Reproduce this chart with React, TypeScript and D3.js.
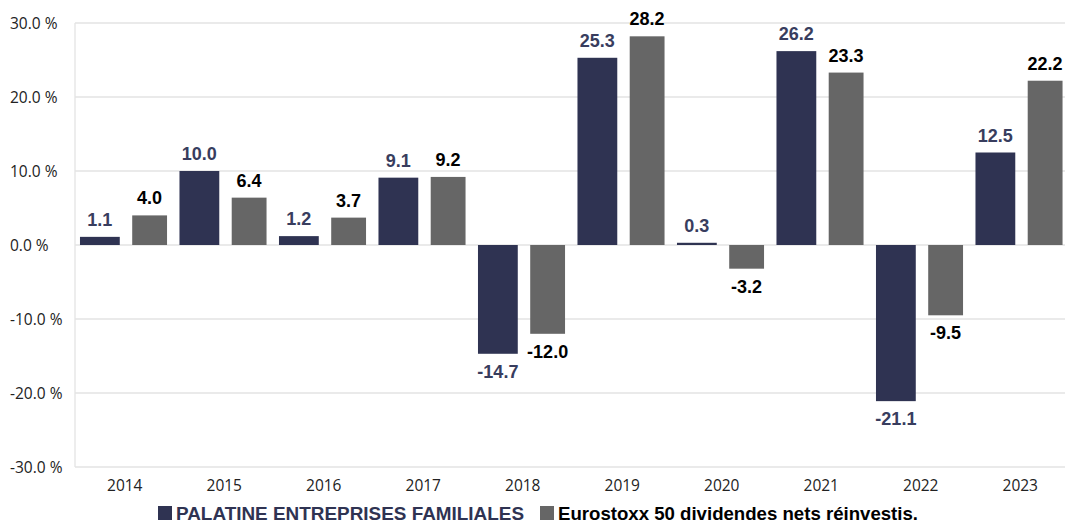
import React from "react";
import * as d3 from "d3";

const years = ["2014", "2015", "2016", "2017", "2018", "2019", "2020", "2021", "2022", "2023"];
const palatine = [1.1, 10.0, 1.2, 9.1, -14.7, 25.3, 0.3, 26.2, -21.1, 12.5];
const eurostoxx = [4.0, 6.4, 3.7, 9.2, -12.0, 28.2, -3.2, 23.3, -9.5, 22.2];
const yTicks = [30, 20, 10, 0, -10, -20, -30];
const seriesNames = ["PALATINE ENTREPRISES FAMILIALES", "Eurostoxx 50 dividendes nets réinvestis."];

const W = 1065;
const H = 525;
const BLUE = "#2f3352";
const GRAY = "#666666";

export default function App() {
  const x = d3.scaleBand<string>().domain(years).range([75, 1070]).padding(0);
  const y = d3.scaleLinear().domain([-30, 30]).range([467, 23]);
  const bw = x.bandwidth();
  const fmt = (v: number) => v.toFixed(1);
  const numFont = "'Liberation Sans', Arial, sans-serif";
  const axisFont = "'Open Sans', 'Noto Sans', sans-serif";

  return (
    <svg width={W} height={H} style={{ position: "absolute", left: 0, top: 0, background: "#fff" }}>
      {yTicks.map((t) => (
        <g key={t}>
          <line x1={75} x2={W} y1={y(t)} y2={y(t)} stroke="#e3e3e3" strokeWidth={1.3} />
          <text x={10} y={y(t)} dy="0.36em" textAnchor="start" fontFamily={axisFont} fontSize={15.5} fill="#222">
            {t.toFixed(1) + " %"}
          </text>
        </g>
      ))}
      <line x1={75} x2={75} y1={y(30)} y2={y(-30)} stroke="#e3e3e3" strokeWidth={1.3} />
      {years.map((yr, i) => {
        const x0 = x(yr)!;
        const pv = palatine[i];
        const ev = eurostoxx[i];
        const bx = x0 + bw * 0.05;
        const bW = bw * 0.4;
        const gx = x0 + bw * 0.575;
        const gW = bw * 0.35;
        return (
          <g key={yr}>
            <rect x={bx} width={bW} y={Math.min(y(pv), y(0))} height={Math.abs(y(pv) - y(0))} fill={BLUE} />
            <rect x={gx} width={gW} y={Math.min(y(ev), y(0))} height={Math.abs(y(ev) - y(0))} fill={GRAY} />
            <text
              x={bx + bW / 2}
              y={pv >= 0 ? y(pv) - 11 : y(pv) + 24}
              textAnchor="middle"
              fontFamily={numFont}
              fontWeight="bold"
              fontSize={18}
              fill="#383d5e"
            >
              {fmt(pv)}
            </text>
            <text
              x={gx + gW / 2}
              y={ev >= 0 ? y(ev) - 11 : y(ev) + 24}
              textAnchor="middle"
              fontFamily={numFont}
              fontWeight="bold"
              fontSize={18}
              fill="#000"
            >
              {fmt(ev)}
            </text>
            <text x={x0 + bw / 2} y={491} textAnchor="middle" fontFamily={axisFont} fontSize={15.5} fill="#222">
              {yr}
            </text>
          </g>
        );
      })}
      <g>
        <rect x={158} y={506} width={14} height={14} fill={BLUE} />
        <text
          x={176}
          y={519.5}
          fontFamily="'Liberation Sans', Arial, sans-serif"
          fontWeight="bold"
          fontSize={18.5}
          textLength={348}
          lengthAdjust="spacingAndGlyphs"
          fill={BLUE}
        >
          {seriesNames[0]}
        </text>
        <rect x={540} y={506} width={14} height={14} fill={GRAY} />
        <text
          x={558}
          y={519.5}
          fontFamily="'Liberation Sans', Arial, sans-serif"
          fontWeight="bold"
          fontSize={18.5}
          textLength={360}
          lengthAdjust="spacingAndGlyphs"
          fill="#000"
        >
          {seriesNames[1]}
        </text>
      </g>
    </svg>
  );
}
